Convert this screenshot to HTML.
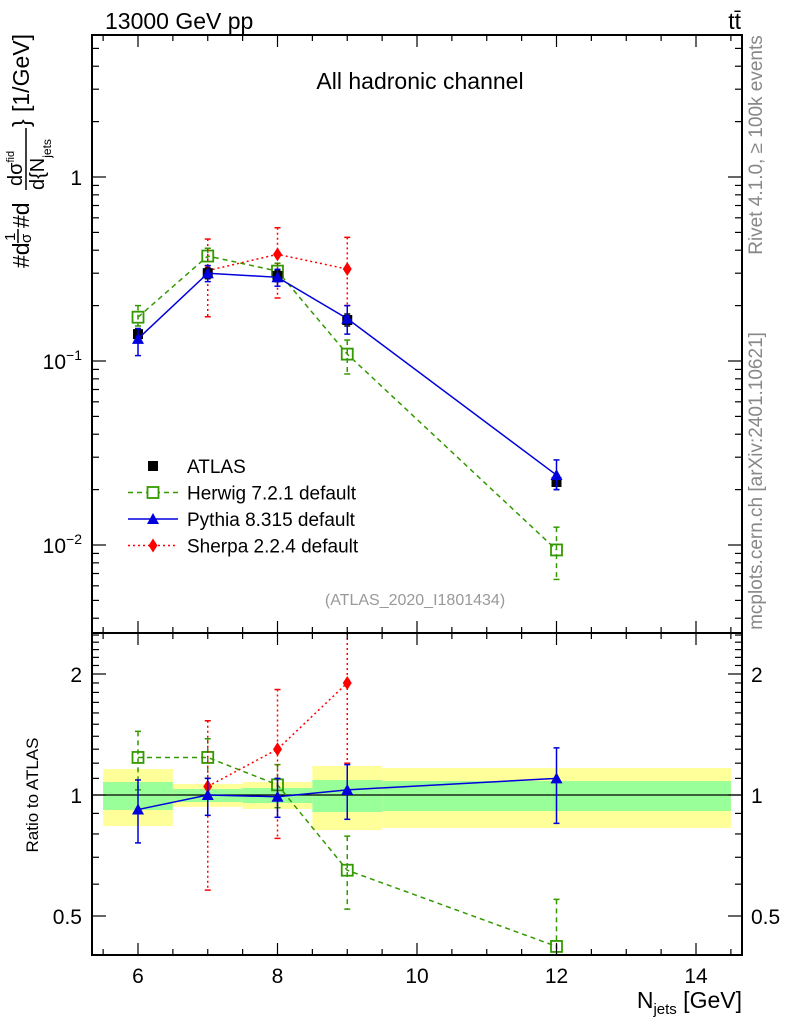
<!DOCTYPE html>
<html><head><meta charset="utf-8"><style>
html,body{margin:0;padding:0;background:#fff;}
svg{display:block;font-family:"Liberation Sans",sans-serif;}
</style></head><body>
<svg id="chart" width="786" height="1024" viewBox="0 0 786 1024" xmlns="http://www.w3.org/2000/svg">
<g id="bands"></g>
<g id="marks"></g>
<g id="axes"></g>
<text x="105" y="29" font-size="23">13000 GeV pp</text>
<text x="741" y="29" font-size="23" text-anchor="end">tt̄</text>
<text x="420" y="89" font-size="23" text-anchor="middle">All hadronic channel</text>
<text x="415" y="605" font-size="16" fill="#999" text-anchor="middle">(ATLAS_2020_I1801434)</text>
<text transform="translate(762,145) rotate(-90)" font-size="19" fill="#888" text-anchor="middle">Rivet 4.1.0, ≥ 100k events</text>
<text transform="translate(762,481) rotate(-90)" font-size="19" fill="#888" text-anchor="middle">mcplots.cern.ch [arXiv:2401.10621]</text>
<text transform="translate(38,795) rotate(-90)" font-size="17" text-anchor="middle">Ratio to ATLAS</text>
<g transform="rotate(-90)" font-size="23">
<text x="-268" y="29">#d</text>
<text x="-241" y="15" font-size="15">1</text>
<line x1="-243" y1="18" x2="-229" y2="18" stroke="#000" stroke-width="1.5"/>
<text x="-243" y="31" font-size="15">σ</text>
<text x="-228" y="29">#d</text>
<text x="-186" y="22" font-size="20">dσ<tspan font-size="11" dy="-8">fid</tspan></text>
<line x1="-190" y1="26" x2="-128" y2="26" stroke="#000" stroke-width="1.5"/>
<text x="-190" y="44" font-size="20">d{N<tspan font-size="12" dy="7">jets</tspan></text>
<text x="-127" y="29">}</text>
<text x="-112" y="29">[1/GeV]</text>
</g>
<g id="legend"></g>
<text x="742" y="1008" font-size="23" text-anchor="end">N<tspan font-size="15" dy="6">jets</tspan><tspan dy="-6"> [GeV]</tspan></text>
</svg>
<script>
const xs = [6, 7, 8, 9, 12];
const atlas = [0.14, 0.30, 0.29, 0.167, 0.022];
const atlasLo = [0.13, 0.28, 0.27, 0.155, 0.020];
const atlasHi = [0.15, 0.32, 0.31, 0.18, 0.024];
const herwig = [0.173, 0.372, 0.308, 0.109, 0.0094];
const herwigLo = [0.155, 0.33, 0.27, 0.085, 0.0065];
const herwigHi = [0.20, 0.41, 0.34, 0.13, 0.0125];
const pythia = [0.132, 0.30, 0.285, 0.17, 0.024];
const pythiaLo = [0.107, 0.27, 0.255, 0.14, 0.020];
const pythiaHi = [0.15, 0.33, 0.315, 0.20, 0.029];
const sherpaX = [7, 8, 9];
const sherpa = [0.31, 0.38, 0.316];
const sherpaLo = [0.174, 0.22, 0.20];
const sherpaHi = [0.46, 0.53, 0.47];
const rHerwig = [1.24, 1.24, 1.06, 0.65, 0.42];
const rHerwigLo = [1.03, 1.10, 0.93, 0.52, 0.38];
const rHerwigHi = [1.44, 1.38, 1.19, 0.79, 0.55];
const rPythia = [0.92, 1.0, 0.99, 1.03, 1.10];
const rPythiaLo = [0.76, 0.89, 0.88, 0.87, 0.85];
const rPythiaHi = [1.09, 1.10, 1.10, 1.19, 1.31];
const rSherpa = [1.05, 1.30, 1.90];
const rSherpaLo = [0.58, 0.78, 1.2];
const rSherpaHi = [1.53, 1.83, 2.6];
const binLo = [5.5, 6.5, 7.5, 8.5, 9.5];
const binHi = [6.5, 7.5, 8.5, 9.5, 14.5];
const yelLo = [0.837, 0.934, 0.923, 0.818, 0.828];
const yelHi = [1.16, 1.065, 1.077, 1.181, 1.167];
const grnLo = [0.918, 0.961, 0.955, 0.907, 0.912];
const grnHi = [1.077, 1.035, 1.041, 1.09, 1.083];
const xTicks = [6, 8, 10, 12, 14];

const NS = "http://www.w3.org/2000/svg";
const L = 92, R = 742, T1 = 35, B1 = 633, T2 = 633, B2 = 955;
const X = v => 138 + (v - 6) * 69.75;
const Y1 = v => 177 - Math.log10(v) * 184;
const Y2 = v => 795 - Math.log2(v) * 121;
function el(tag, attrs, parent) {
  const e = document.createElementNS(NS, tag);
  for (const k in attrs) e.setAttribute(k, attrs[k]);
  parent.appendChild(e); return e;
}
const bands = document.getElementById('bands');
const marks = document.getElementById('marks');
const axes = document.getElementById('axes');

for (let i = 0; i < binLo.length; i++) {
  const y = el('rect', {x: X(binLo[i]), y: Y2(yelHi[i]), width: X(binHi[i]) - X(binLo[i]), height: Y2(yelLo[i]) - Y2(yelHi[i]), fill: '#ffff99'}, bands);
  
  
  const g = el('rect', {x: X(binLo[i]), y: Y2(grnHi[i]), width: X(binHi[i]) - X(binLo[i]), height: Y2(grnLo[i]) - Y2(grnHi[i]), fill: '#99ff99'}, bands);
  
  
}
const one = el('line', {x1: L, x2: R, y1: Y2(1), y2: Y2(1), stroke: '#000', 'stroke-width': 1.2}, bands);



function clipY(y, top, bot) { return Math.max(top, Math.min(bot, y)); }
function series(px, vals, lo, hi, Y, top, bot, color, dash, marker, name) {
  const g = el('g', {}, marks);
  
  
  if (dash !== null) {
    const pts = px.map((x, i) => X(x) + ',' + Y(vals[i])).join(' ');
    const pl = el('polyline', {points: pts, fill: 'none', stroke: color, 'stroke-width': 1.5, 'stroke-dasharray': dash}, g);
    
    
  }
  px.forEach((x, i) => {
    const cx = X(x), cy = Y(vals[i]);
    if (cy < top || cy > bot) return;
    const y1 = clipY(Y(hi[i]), top, bot), y2 = clipY(Y(lo[i]), top, bot);
    const eb = el('line', {x1: cx, x2: cx, y1: y1, y2: y2, stroke: color, 'stroke-width': 1.5, 'stroke-dasharray': dash || 'none'}, g);
    
    
    [y1, y2].forEach(yy => { if (yy > top && yy < bot) el('line', {x1: cx - 3, x2: cx + 3, y1: yy, y2: yy, stroke: color, 'stroke-width': 1.5}, g); });
    let m;
    if (marker === 'sq') m = el('rect', {x: cx - 5, y: cy - 5, width: 10, height: 10, fill: '#000'}, g);
    else if (marker === 'osq') m = el('rect', {x: cx - 5.5, y: cy - 5.5, width: 11, height: 11, fill: 'none', stroke: color, 'stroke-width': 1.8}, g);
    else if (marker === 'tri') m = el('polygon', {points: `${cx},${cy - 6} ${cx - 6},${cy + 5} ${cx + 6},${cy + 5}`, fill: color}, g);
    else m = el('polygon', {points: `${cx},${cy - 7} ${cx - 4.5},${cy} ${cx},${cy + 7} ${cx + 4.5},${cy}`, fill: color}, g);
    
    
  });
}
series(xs, herwig, herwigLo, herwigHi, Y1, T1, B1, '#339900', '5,4', 'osq', 'herwig-series');
series(sherpaX, sherpa, sherpaLo, sherpaHi, Y1, T1, B1, '#ff0000', '2,3', 'dia', 'sherpa-series');
series(xs, atlas, atlasLo, atlasHi, Y1, T1, B1, '#000', null, 'sq', 'atlas-series');
series(xs, pythia, pythiaLo, pythiaHi, Y1, T1, B1, '#0000dd', '', 'tri', 'pythia-series');
series(xs, rHerwig, rHerwigLo, rHerwigHi, Y2, T2, B2, '#339900', '5,4', 'osq', 'herwig-ratio');
series(sherpaX, rSherpa, rSherpaLo, rSherpaHi, Y2, T2, B2, '#ff0000', '2,3', 'dia', 'sherpa-ratio');
series(xs, rPythia, rPythiaLo, rPythiaHi, Y2, T2, B2, '#0000dd', '', 'tri', 'pythia-ratio');

[[T1, B1, 'main-frame'], [T2, B2, 'ratio-frame']].forEach(f => {
  const r = el('rect', {x: L, y: f[0], width: R - L, height: f[1] - f[0], fill: 'none', stroke: '#000', 'stroke-width': 2}, axes);
  
  
});
for (let v = 5.5; v <= 14.5; v += 0.5) {
  const major = v % 2 === 0, len = major ? 12 : 6, x = X(v);
  [[T1, 1], [B1, -1], [T2, 1], [B2, -1]].forEach(p => el('line', {x1: x, x2: x, y1: p[0], y2: p[0] + p[1] * len, stroke: '#000', 'stroke-width': 1.2}, axes));
}
xTicks.forEach(v => {
  const t = el('text', {x: X(v), y: 983, 'font-size': 21, 'text-anchor': 'middle'}, axes);
  t.textContent = v;
  
  
});
for (let d = -3; d <= 0; d++) for (let m = 1; m <= 9; m++) {
  const v = m * Math.pow(10, d), y = Y1(v);
  if (y < T1 || y > B1) continue;
  const len = m === 1 ? 14 : 7;
  el('line', {x1: L, x2: L + len, y1: y, y2: y, stroke: '#000', 'stroke-width': 1.2}, axes);
  el('line', {x1: R, x2: R - len, y1: y, y2: y, stroke: '#000', 'stroke-width': 1.2}, axes);
}
const yl = [['1', '', 0], ['10', '−1', -1], ['10', '−2', -2]];
yl.forEach(a => {
  const t = el('text', {x: 82, y: Y1(Math.pow(10, a[2])) + 8, 'font-size': 21, 'text-anchor': 'end'}, axes);
  t.innerHTML = a[0] + (a[1] ? '<tspan font-size="14" dy="-9">' + a[1] + '</tspan>' : '');
  
  
});
const rt = [0.4, 0.5, 0.6, 0.7, 0.8, 0.9, 1, 1.1, 1.2, 1.3, 1.4, 1.5, 1.6, 1.7, 1.8, 1.9, 2, 2.1, 2.2, 2.3, 2.4, 2.5];
rt.forEach(v => {
  const y = Y2(v); if (y < T2 || y > B2) return;
  const len = (v === 0.5 || v === 1 || v === 2) ? 14 : 7;
  el('line', {x1: L, x2: L + len, y1: y, y2: y, stroke: '#000', 'stroke-width': 1.2}, axes);
  el('line', {x1: R, x2: R - len, y1: y, y2: y, stroke: '#000', 'stroke-width': 1.2}, axes);
});
[['2', 2], ['1', 1], ['0.5', 0.5]].forEach(a => {
  const t = el('text', {x: 82, y: Y2(a[1]) + 8, 'font-size': 21, 'text-anchor': 'end'}, axes);
  t.textContent = a[0];
  
  
  const t2 = el('text', {x: 751, y: Y2(a[1]) + 8, 'font-size': 21}, axes);
  t2.textContent = a[0];
  
  
});
const lg = document.getElementById('legend');
const entries = [['ATLAS', '#000', null, 'sq'], ['Herwig 7.2.1 default', '#339900', '5,4', 'osq'], ['Pythia 8.315 default', '#0000dd', '', 'tri'], ['Sherpa 2.2.4 default', '#ff0000', '2,3', 'dia']];
entries.forEach((e, i) => {
  const y = 466 + i * 26.5, cx = 153;
  const g = el('g', {}, lg);
  
  
  if (e[2] !== null) el('line', {x1: 128, x2: 178, y1: y, y2: y, stroke: e[1], 'stroke-width': 1.5, 'stroke-dasharray': e[2]}, g);
  if (e[3] === 'sq') el('rect', {x: cx - 5, y: y - 5, width: 10, height: 10, fill: '#000'}, g);
  else if (e[3] === 'osq') el('rect', {x: cx - 5.5, y: y - 5.5, width: 11, height: 11, fill: '#fff', stroke: e[1], 'stroke-width': 1.8}, g);
  else if (e[3] === 'tri') el('polygon', {points: `${cx},${y - 6} ${cx - 6},${y + 5} ${cx + 6},${y + 5}`, fill: e[1]}, g);
  else el('polygon', {points: `${cx},${y - 7} ${cx - 4.5},${y} ${cx},${y + 7} ${cx + 4.5},${y}`, fill: e[1]}, g);
  const t = el('text', {x: 187, y: y + 7, 'font-size': 19}, g);
  t.textContent = e[0];
});
</script>
</body></html>
